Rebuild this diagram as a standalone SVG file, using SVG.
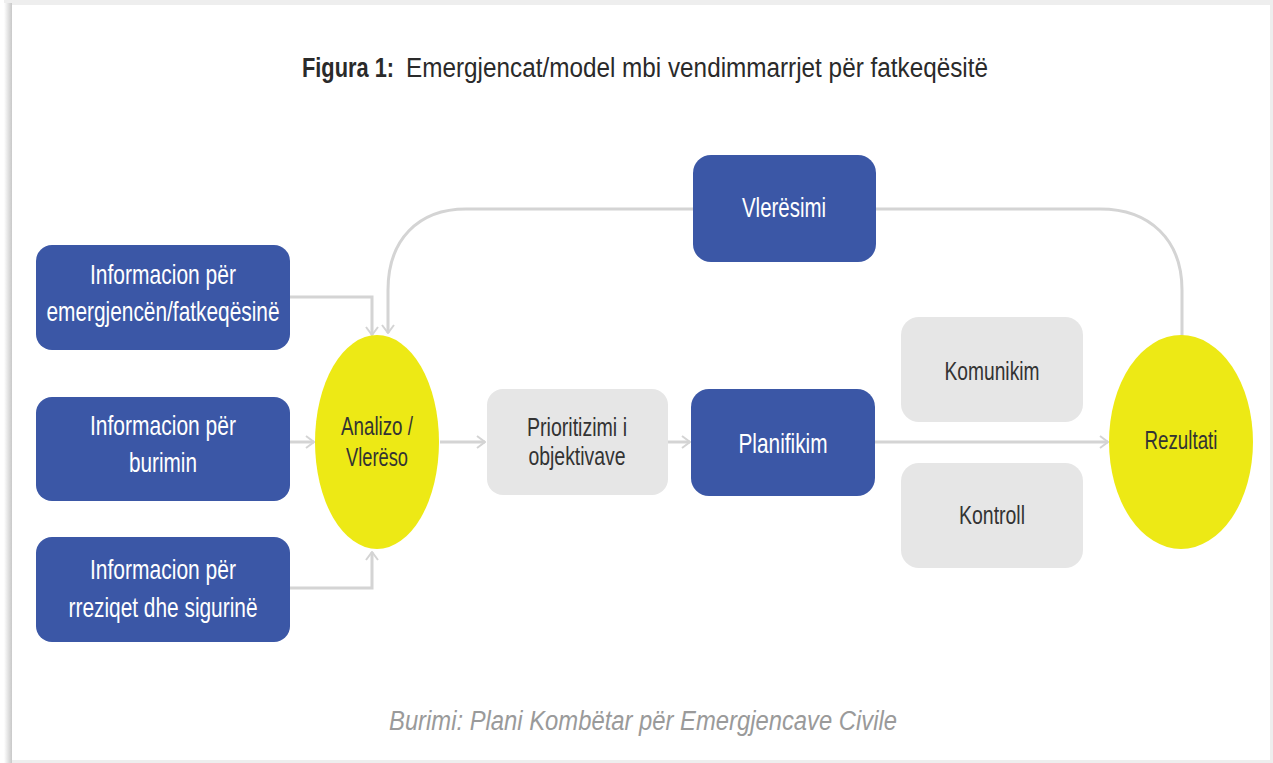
<svg xmlns="http://www.w3.org/2000/svg" width="1273" height="763" viewBox="0 0 1273 763">
<defs>
<style>
.blue{fill:#3B57A6}
.grey{fill:#E6E6E6}
.yel{fill:#EDE915}
.wt{font-family:"Liberation Sans",Arial,sans-serif;font-size:28px;fill:#ffffff;text-anchor:middle}
.dt{font-family:"Liberation Sans",Arial,sans-serif;font-size:26px;fill:#333333;text-anchor:middle}
.conn{fill:none;stroke:#D4D4D4;stroke-width:3}
</style>
<marker id="arr" viewBox="0 0 10 14" refX="9" refY="7" markerWidth="10" markerHeight="14" markerUnits="userSpaceOnUse" orient="auto">
<path d="M1,1 L9,7 L1,13" fill="none" stroke="#D4D4D4" stroke-width="2"/>
</marker>
<linearGradient id="sh" x1="0" y1="0" x2="1" y2="0">
<stop offset="0" stop-color="#ffffff"/>
<stop offset="1" stop-color="#c8c8c8"/>
</linearGradient>
</defs>
<rect x="0" y="0" width="1273" height="763" fill="#ffffff"/>
<rect x="4" y="0" width="1269" height="763" fill="#eeeeee"/>
<rect x="4" y="3" width="8" height="760" fill="url(#sh)"/>
<rect x="12" y="5" width="1258" height="755" fill="#ffffff"/>

<g id="title">
<text x="302" y="77" font-family="Liberation Sans, Arial, sans-serif" font-size="27" font-weight="bold" fill="#2a2a2a" textLength="92" lengthAdjust="spacingAndGlyphs">Figura 1:</text>
<text x="406" y="77" font-family="Liberation Sans, Arial, sans-serif" font-size="27" fill="#2a2a2a" textLength="582" lengthAdjust="spacingAndGlyphs">Emergjencat/model mbi vendimmarrjet për fatkeqësitë</text>
</g>

<g id="connectors">
<path class="conn" d="M290,297 H372 V335" marker-end="url(#arr)"/>
<path class="conn" d="M290,442 H314" marker-end="url(#arr)"/>
<path class="conn" d="M290,588 H372 V552" marker-end="url(#arr)"/>
<path class="conn" d="M693,209 H466 C418,209 388,240 388,290 V333" marker-end="url(#arr)"/>
<path class="conn" d="M876,209 H1100 C1150,209 1182,240 1182,290 V336"/>
<path class="conn" d="M440,442 H485" marker-end="url(#arr)"/>
<path class="conn" d="M668,442 H690" marker-end="url(#arr)"/>
<path class="conn" d="M875,442 H1108" marker-end="url(#arr)"/>
</g>

<g id="info-emergjenca">
<rect class="blue" x="36" y="245" width="254" height="105" rx="16"/>
<text class="wt" x="163" y="284" textLength="146" lengthAdjust="spacingAndGlyphs">Informacion për</text>
<text class="wt" x="163" y="321" textLength="233" lengthAdjust="spacingAndGlyphs">emergjencën/fatkeqësinë</text>
</g>
<g id="info-burimi">
<rect class="blue" x="36" y="397" width="254" height="104" rx="16"/>
<text class="wt" x="163" y="435" textLength="146" lengthAdjust="spacingAndGlyphs">Informacion për</text>
<text class="wt" x="163" y="472" textLength="68" lengthAdjust="spacingAndGlyphs">burimin</text>
</g>
<g id="info-rreziqet">
<rect class="blue" x="36" y="537" width="254" height="105" rx="16"/>
<text class="wt" x="163" y="579" textLength="146" lengthAdjust="spacingAndGlyphs">Informacion për</text>
<text class="wt" x="163" y="617" textLength="189" lengthAdjust="spacingAndGlyphs">rreziqet dhe sigurinë</text>
</g>

<g id="analizo">
<ellipse class="yel" cx="377" cy="442" rx="62" ry="107"/>
<text class="dt" x="377" y="435" textLength="72" lengthAdjust="spacingAndGlyphs">Analizo /</text>
<text class="dt" x="377" y="466" textLength="62" lengthAdjust="spacingAndGlyphs">Vlerëso</text>
</g>

<g id="vleresimi">
<rect class="blue" x="693" y="155" width="183" height="107" rx="18"/>
<text class="wt" x="784" y="217" textLength="84" lengthAdjust="spacingAndGlyphs">Vlerësimi</text>
</g>

<g id="prioritizimi">
<rect class="grey" x="487" y="389" width="181" height="106" rx="16"/>
<text class="dt" x="577" y="436" textLength="100" lengthAdjust="spacingAndGlyphs">Prioritizimi i</text>
<text class="dt" x="577" y="465" textLength="97" lengthAdjust="spacingAndGlyphs">objektivave</text>
</g>

<g id="planifikim">
<rect class="blue" x="691" y="389" width="184" height="107" rx="18"/>
<text class="wt" x="783" y="453" textLength="89" lengthAdjust="spacingAndGlyphs">Planifikim</text>
</g>

<g id="komunikim">
<rect class="grey" x="901" y="317" width="182" height="105" rx="18"/>
<text class="dt" x="992" y="380" textLength="95" lengthAdjust="spacingAndGlyphs">Komunikim</text>
</g>

<g id="kontroll">
<rect class="grey" x="901" y="463" width="182" height="105" rx="18"/>
<text class="dt" x="992" y="524" textLength="66" lengthAdjust="spacingAndGlyphs">Kontroll</text>
</g>

<g id="rezultati">
<ellipse class="yel" cx="1181" cy="442" rx="72" ry="107"/>
<text class="dt" x="1181" y="449" textLength="73" lengthAdjust="spacingAndGlyphs">Rezultati</text>
</g>

<g id="footer">
<text x="643" y="730" text-anchor="middle" font-family="Liberation Sans, Arial, sans-serif" font-size="27" font-style="italic" fill="#9a9a9a" textLength="508" lengthAdjust="spacingAndGlyphs">Burimi: Plani Kombëtar për Emergjencave Civile</text>
</g>
</svg>
